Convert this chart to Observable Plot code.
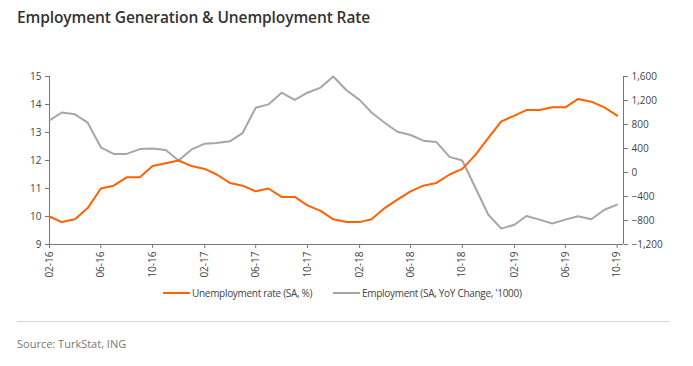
<!DOCTYPE html>
<html><head><meta charset="utf-8">
<script src="https://cdn.jsdelivr.net/npm/d3@7"></script>
<script src="https://cdn.jsdelivr.net/npm/@observablehq/plot@0.6"></script>
<style>
body{margin:0;background:#fff;font-family:"Open Sans",sans-serif;}
#wrap{position:relative;width:693px;height:366px;overflow:hidden;background:#fff;}
#title{position:absolute;left:17px;top:6px;font-size:15.5px;font-weight:600;color:#333;letter-spacing:-0.1px;white-space:nowrap;}
#chart{position:absolute;left:0;top:0;}
.leg{position:absolute;top:286px;font-size:10px;color:#444;white-space:nowrap;display:flex;align-items:center;letter-spacing:-0.3px;}
.sw{display:inline-block;width:27px;height:2px;margin-right:2px;}
#rule{position:absolute;left:17px;top:321px;width:653px;height:1px;background:#d6d6d6;}
#source{position:absolute;left:17px;top:336px;font-size:11px;color:#777;}
</style></head>
<body>
<div id="wrap">
  <div id="title">Employment Generation &amp; Unemployment Rate</div>
  <div id="chart"></div>
  <div class="leg" style="left:163px"><span class="sw" style="background:#FF6200"></span>Unemployment rate (SA, %)</div>
  <div class="leg" style="left:333px"><span class="sw" style="background:#A6A6A6"></span>Employment (SA, YoY Change, '1000)</div>
  <div id="rule"></div>
  <div id="source">Source: TurkStat, ING</div>
</div>
<script>
const months = ["02-16","03-16","04-16","05-16","06-16","07-16","08-16","09-16","10-16","11-16","12-16",
"01-17","02-17","03-17","04-17","05-17","06-17","07-17","08-17","09-17","10-17","11-17","12-17",
"01-18","02-18","03-18","04-18","05-18","06-18","07-18","08-18","09-18","10-18","11-18","12-18",
"01-19","02-19","03-19","04-19","05-19","06-19","07-19","08-19","09-19","10-19"];
const unemployment = [10.0,9.8,9.9,10.3,11.0,11.1,11.4,11.4,11.8,11.9,12.0,
11.8,11.7,11.5,11.2,11.1,10.9,11.0,10.7,10.7,10.4,10.2,9.9,
9.8,9.8,9.9,10.3,10.6,10.9,11.1,11.2,11.5,11.7,12.2,12.8,
13.4,13.6,13.8,13.8,13.9,13.9,14.2,14.1,13.9,13.6];
const employment = [870,1000,970,830,420,310,310,390,400,375,200,
385,480,490,520,655,1080,1135,1330,1210,1330,1415,1600,
1370,1210,1000,830,680,625,530,507,260,200,-255,-700,
-935,-870,-725,-785,-850,-785,-730,-780,-620,-535];
const leftTicks = [9,10,11,12,13,14,15];
const rightTicks = [-1200,-800,-400,0,400,800,1200,1600];
const xTickLabels = ["02-16","06-16","10-16","02-17","06-17","10-17","02-18","06-18","10-18","02-19","06-19","10-19"];

const parse = d3.utcParse("%m-%y");
const dates = months.map(parse);
const rows = months.map((m,i)=>({date:dates[i], u:unemployment[i], e:employment[i]}));
const lMin = leftTicks[0], lMax = leftTicks[leftTicks.length-1];
const rMin = rightTicks[0], rMax = rightTicks[rightTicks.length-1];
const toLeft = v => lMin + (v - rMin)/(rMax - rMin)*(lMax - lMin);
const fromLeft = d => rMin + (d - lMin)/(lMax - lMin)*(rMax - rMin);
const xEnd = d3.utcDay.offset(dates[dates.length-1], 15);
const fmtR = d3.format(",");
const axisColor = "#777";

const chart = Plot.plot({
  width:693, height:292,
  marginLeft:49, marginRight:70, marginTop:76, marginBottom:48,
  style:{fontFamily:"'Open Sans',sans-serif", fontSize:"10px", color:"#444", background:"transparent"},
  x:{type:"utc", domain:[dates[0], xEnd]},
  y:{domain:[lMin, lMax]},
  marks:[
    Plot.axisY({ticks:leftTicks, tickSize:4, tickPadding:4, tickFormat:d=>String(d), label:null, stroke:axisColor}),
    Plot.axisY({anchor:"right", ticks:rightTicks.map(toLeft), tickSize:4, tickPadding:4,
      tickFormat:d=>fmtR(Math.round(fromLeft(d)/100)*100).replace("-","-"), label:null, stroke:axisColor}),
    Plot.axisX({ticks:xTickLabels.map(parse), tickFormat:d3.utcFormat("%m-%y"), tickRotate:-90, tickSize:4, tickPadding:3, label:null, stroke:axisColor}),
    Plot.ruleX([dates[0], xEnd], {stroke:axisColor}),
    Plot.ruleY([lMin], {stroke:axisColor}),
    Plot.line(rows, {x:"date", y:d=>toLeft(d.e), stroke:"#A6A6A6", strokeWidth:2}),
    Plot.line(rows, {x:"date", y:"u", stroke:"#FF6200", strokeWidth:2})
  ]
});
document.getElementById("chart").appendChild(chart);
</script>
</body></html>
